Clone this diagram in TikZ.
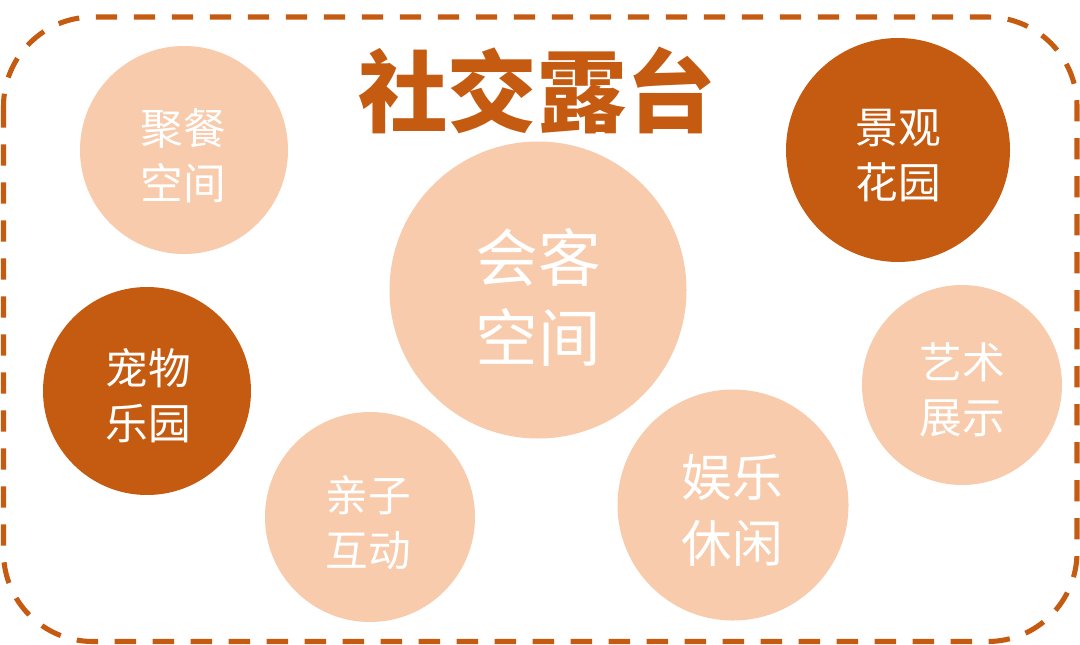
\documentclass[tikz,border=0pt]{standalone}
\usepackage{fontspec}
\newfontfamily\cjk{Noto Sans CJK SC}
\definecolor{darkor}{HTML}{C55A11}
\definecolor{lightor}{HTML}{F7CBAC}
\begin{document}
\begin{tikzpicture}[x=0.75pt,y=-0.75pt,
  bub/.style={circle,inner sep=0pt,draw=none},
  dark/.style={bub,fill=darkor},
  light/.style={bub,fill=lightor},
  smalltxt/.style={text=white,align=center,font=\cjk\fontsize{32pt}{41.5pt}\selectfont},
  midtxt/.style={text=white,align=center,font=\cjk\fontsize{38pt}{49pt}\selectfont},
  bigtxt/.style={text=white,align=center,font=\cjk\fontsize{47pt}{60pt}\selectfont},
  frame/.style={draw=darkor,line width=3.8pt,dash pattern=on 16pt off 12.5pt,rounded corners=67pt}]
\useasboundingbox (0,0) rectangle (1080,645);
\fill[white] (0,0) rectangle (1080,645);
\draw[frame] (3.5,17) rectangle (1077,641.5);
\node[text=darkor,font=\cjk\bfseries\fontsize{67pt}{70pt}\selectfont] (title) at (537,90) {社交露台};
% circles
\node[light,minimum size=156pt] (c1) at (184,150) {};
\node[light,minimum size=222.75pt] (c2) at (538,290) {};
\node[dark,minimum size=168pt] (c3) at (898,150) {};
\node[dark,minimum size=156pt] (c4) at (147,391) {};
\node[light,minimum size=157.5pt] (c5) at (370,517) {};
\node[light,minimum size=173.25pt] (c6) at (733,505) {};
\node[light,minimum size=150pt] (c7) at (962,385) {};
% texts
\node[smalltxt] (t1) at (183,156) {聚餐\\空间};
\node[bigtxt] (t2) at (538,297) {会客\\空间};
\node[smalltxt] (t3) at (898,155.5) {景观\\花园};
\node[smalltxt] (t4) at (148,395.5) {宠物\\乐园};
\node[smalltxt] (t5) at (368,522.5) {亲子\\互动};
\node[midtxt] (t6) at (732,510.5) {娱乐\\休闲};
\node[smalltxt] (t7) at (962,390) {艺术\\展示};
\end{tikzpicture}
\end{document}
